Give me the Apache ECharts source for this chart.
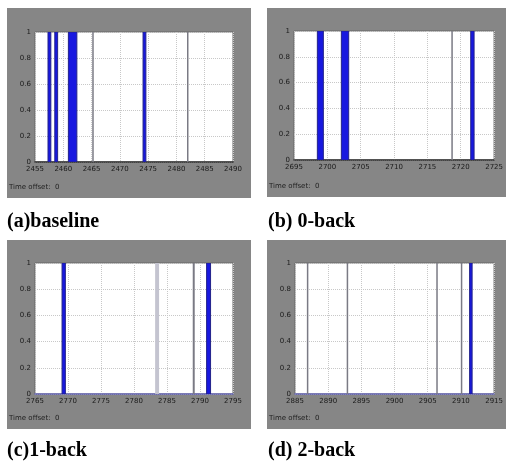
<!DOCTYPE html>
<html><head><meta charset="utf-8">
<script src="https://cdn.jsdelivr.net/npm/echarts@6/dist/echarts.min.js"></script>
<style>html,body{margin:0;padding:0;background:#fff}#c{width:506px;height:468px}</style>
</head><body><div id="c"></div>
<script>
// Tick labels of each panel's x axis
const aTicks = [2455, 2460, 2465, 2470, 2475, 2480, 2485, 2490];
const bTicks = [2695, 2700, 2705, 2710, 2715, 2720, 2725];
const cTicks = [2765, 2770, 2775, 2780, 2785, 2790, 2795];
const dTicks = [2885, 2890, 2895, 2900, 2905, 2910, 2915];
const yTicks = [0, 0.2, 0.4, 0.6, 0.8, 1];

// Intervals where the signal is 1 (blue), [start, end]
const aBlue = [[2457.3, 2457.8], [2458.5, 2459.0], [2460.9, 2462.4], [2474.1, 2474.6]];
const bBlue = [[2698.5, 2699.4], [2702.1, 2703.2], [2721.5, 2722.0]];
const cBlue = [[2769.1, 2769.6], [2791.0, 2791.6]];
const dBlue = [[2911.4, 2911.6]];

// Dark grey marks, [start, end]
const aGrey = [[2465.15, 2465.35], [2481.9, 2482.1]];
const bGrey = [[2718.6, 2718.8]];
const cGrey = [[2788.9, 2789.2]];
const dGrey = [[2886.8, 2887.0], [2892.8, 2893.0], [2906.3, 2906.5], [2910.0, 2910.2]];

// Faint marks, [start, end]
const aFaint = [];
const bFaint = [];
const cFaint = [[2783.2, 2783.8]];
const dFaint = [];

const captions = ['(a)baseline', '(b) 0-back', '(c)1-back', '(d) 2-back'];
const offsetText = 'Time offset:  0';

const panels = [
  {ticks: aTicks, blue: aBlue, grey: aGrey, faint: aFaint, grid: {left: 35, top: 32, width: 198, height: 130}, box: [7, 8, 244, 190], cap: [7, 223], base: '#333'},
  {ticks: bTicks, blue: bBlue, grey: bGrey, faint: bFaint, grid: {left: 294, top: 31, width: 203, height: 129}, box: [267, 8, 239, 189], cap: [268, 223], base: '#333'},
  {ticks: cTicks, blue: cBlue, grey: cGrey, faint: cFaint, grid: {left: 35, top: 263, width: 198, height: 131}, box: [7, 240, 244, 189], cap: [7, 452], base: '#6a6ab8'},
  {ticks: dTicks, blue: dBlue, grey: dGrey, faint: dFaint, grid: {left: 295, top: 263, width: 205, height: 131}, box: [267, 240, 239, 189], cap: [268, 452], base: '#6a6ab8'}
];

function rectItem(fill, stroke, minW) {
  return function (params, api) {
    const p0 = api.coord([api.value(0), 1]);
    const p1 = api.coord([api.value(1), 0]);
    let x = p0[0], w = p1[0] - p0[0];
    if (w < minW) { x = (p0[0] + p1[0]) / 2 - minW / 2; w = minW; }
    return {type: 'rect', shape: {x: x, y: p0[1], width: w, height: p1[1] - p0[1]},
      style: {fill: fill, stroke: stroke, lineWidth: stroke ? 1 : 0}};
  };
}

const grids = [], xAxes = [], yAxes = [], series = [], graphics = [];
panels.forEach((p, i) => {
  graphics.push({type: 'rect', silent: true, z: -10, shape: {x: p.box[0], y: p.box[1], width: p.box[2], height: p.box[3]}, style: {fill: '#868686'}});
  graphics.push({type: 'text', left: p.box[0] + 2, top: p.box[1] + p.box[3] - 14, style: {text: offsetText, fontSize: 7, fill: '#222', fontFamily: 'DejaVu Sans'}});
  graphics.push({type: 'text', left: p.cap[0], top: p.cap[1] - 11, style: {text: captions[i], fontSize: 20, fontWeight: 'bold', fill: '#000', fontFamily: 'Liberation Serif'}});
  grids.push(Object.assign({show: true, backgroundColor: '#fff', borderColor: '#666', borderWidth: 1}, p.grid));
  const step = p.ticks[1] - p.ticks[0];
  xAxes.push({type: 'value', gridIndex: i, min: p.ticks[0], max: p.ticks[p.ticks.length - 1], interval: step,
    axisLine: {show: true, onZero: false, lineStyle: {color: p.base, width: 1.5}}, axisTick: {show: false},
    axisLabel: {fontSize: 7, color: '#1a1a1a', margin: 4, fontFamily: 'DejaVu Sans', showMinLabel: true, showMaxLabel: true, formatter: v => String(v)},
    splitLine: {show: true, lineStyle: {color: '#c8c8c8', type: 'dotted', width: 1}}});
  yAxes.push({type: 'value', gridIndex: i, min: yTicks[0], max: yTicks[yTicks.length - 1], interval: yTicks[1] - yTicks[0],
    axisLine: {show: false}, axisTick: {show: false},
    axisLabel: {fontSize: 7, color: '#1a1a1a', margin: 4, fontFamily: 'DejaVu Sans', formatter: v => String(Math.round(v * 10) / 10)},
    splitLine: {show: true, lineStyle: {color: '#c8c8c8', type: 'dotted', width: 1}}});
  series.push({type: 'custom', xAxisIndex: i, yAxisIndex: i, data: p.faint, encode: {x: [0, 1]}, clip: true,
    renderItem: rectItem('#c4c4d0', null, 1.5), silent: true});
  series.push({type: 'custom', xAxisIndex: i, yAxisIndex: i, data: p.grey, encode: {x: [0, 1]}, clip: true,
    renderItem: rectItem('#7a7a84', null, 1.5), silent: true});
  series.push({type: 'custom', xAxisIndex: i, yAxisIndex: i, data: p.blue, encode: {x: [0, 1]}, clip: true,
    renderItem: rectItem('#1818e0', '#22228a', 2.5), silent: true});
});

const chart = echarts.init(document.getElementById('c'), null, {renderer: 'canvas'});
chart.setOption({animation: false, backgroundColor: '#fff', grid: grids, xAxis: xAxes, yAxis: yAxes, series: series, graphic: graphics});
</script></body></html>
